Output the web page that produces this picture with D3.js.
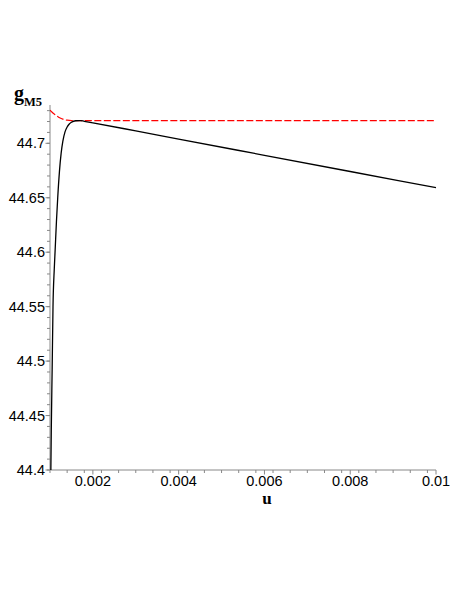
<!DOCTYPE html>
<html><head><meta charset="utf-8">
<script src="https://cdn.jsdelivr.net/npm/d3@7"></script>
<style>body{margin:0;background:#fff}svg{display:block}</style>
</head><body>
<script>
const blackU = [0.00101,0.00102,0.00103,0.00105,0.00107,0.00110,0.00112,0.00115,0.00118,0.00122,0.00126,0.00130,0.00135,0.00140,0.00145,0.00150,0.00160,0.00170,0.00180,0.00200,0.00300,0.00400,0.00600,0.00800,0.01000];
const blackG = [44.35,44.400,44.437,44.492,44.550,44.585,44.602,44.628,44.650,44.674,44.691,44.702,44.7105,44.715,44.7177,44.7193,44.7207,44.7209,44.7202,44.7188,44.7114,44.7039,44.6890,44.6741,44.6592];
const redU = [0.00100,0.00105,0.00110,0.00115,0.00120,0.00125,0.00130,0.00135,0.00140,0.00150,0.00200,0.00400,0.00600,0.00800,0.01000];
const redG = [44.7305,44.7285,44.7268,44.7252,44.7240,44.7230,44.7222,44.7216,44.7212,44.7209,44.7208,44.7208,44.7208,44.7208,44.7208];
const xTicks = [0.002,0.004,0.006,0.008,0.01];
const xTickLabels = ["0.002","0.004","0.006","0.008","0.01"];
const yTicks = [44.4,44.45,44.5,44.55,44.6,44.65,44.7];
const yTickLabels = ["44.4","44.45","44.5","44.55","44.6","44.65","44.7"];

const W=457,H=591;
const svg=d3.select("body").append("svg").attr("width",W).attr("height",H);
const x=d3.scaleLinear().domain([0.001,0.01]).range([50,436]);
const y=d3.scaleLinear().domain([44.4,44.7]).range([470,143.3]);
const yTop=105;

svg.append("defs").append("clipPath").attr("id","clip")
  .append("rect").attr("x",50).attr("y",yTop-10).attr("width",390).attr("height",470-yTop+10);

const xMinor=d3.range(0,23).map(i=>0.001+i*0.0004).filter(v=>v<=0.01+1e-9);
const yMinor=d3.range(0,34).map(i=>44.4+i*0.01).filter(v=>y(v)>=yTop-0.5);
const axisCol="#888";
const g=svg.append("g");
g.selectAll(".xm").data(xMinor).join("line").attr("x1",d=>x(d)).attr("x2",d=>x(d)).attr("y1",470).attr("y2",473).attr("stroke",axisCol).attr("stroke-width",1);
g.selectAll(".ym").data(yMinor).join("line").attr("x1",47).attr("x2",50).attr("y1",d=>y(d)).attr("y2",d=>y(d)).attr("stroke",axisCol).attr("stroke-width",1);
g.selectAll(".yM").data(yTicks).join("line").attr("x1",45.5).attr("x2",50).attr("y1",d=>y(d)).attr("y2",d=>y(d)).attr("stroke",axisCol).attr("stroke-width",1);
g.selectAll(".xM").data(xTicks).join("line").attr("x1",d=>x(d)).attr("x2",d=>x(d)).attr("y1",470).attr("y2",474.5).attr("stroke",axisCol).attr("stroke-width",1);
g.append("line").attr("x1",50).attr("x2",50).attr("y1",yTop).attr("y2",470).attr("stroke",axisCol).attr("stroke-width",1);
g.append("line").attr("x1",50).attr("x2",x(0.01)).attr("y1",470).attr("y2",470).attr("stroke",axisCol).attr("stroke-width",1);

const font="'Liberation Sans', Arial, sans-serif";
g.selectAll(".yl").data(yTicks).join("text").attr("x",45).attr("y",d=>y(d)+5).attr("text-anchor","end")
  .attr("font-family",font).attr("font-size",14.5).text((d,i)=>yTickLabels[i]);
g.selectAll(".xl").data(xTicks).join("text").attr("x",d=>x(d)).attr("y",486).attr("text-anchor","middle")
  .attr("font-family",font).attr("font-size",14.5).text((d,i)=>xTickLabels[i]);

const line=d3.line().x(d=>x(d[0])).y(d=>y(d[1])).curve(d3.curveMonotoneX);
const plot=svg.append("g").attr("clip-path","url(#clip)");
plot.append("path").datum(redU.map((u,i)=>[u,redG[i]])).attr("d",line).attr("fill","none")
  .attr("stroke","#ff0000").attr("stroke-width",1.2).attr("stroke-dasharray","7,2.5");
plot.append("path").datum(blackU.map((u,i)=>[u,blackG[i]])).attr("d",line).attr("fill","none")
  .attr("stroke","#000").attr("stroke-width",1.3);

const serif="'Liberation Serif','Times New Roman',serif";
const lab=svg.append("text").attr("x",14).attr("y",100).attr("font-family",serif).attr("font-weight","bold");
lab.append("tspan").attr("font-size",20).text("g");
lab.append("tspan").attr("font-size",12.5).attr("dy",6).text("M5");
svg.append("text").attr("x",267).attr("y",504).attr("text-anchor","middle").attr("font-family",serif)
  .attr("font-weight","bold").attr("font-size",17).text("u");
</script>
</body></html>
